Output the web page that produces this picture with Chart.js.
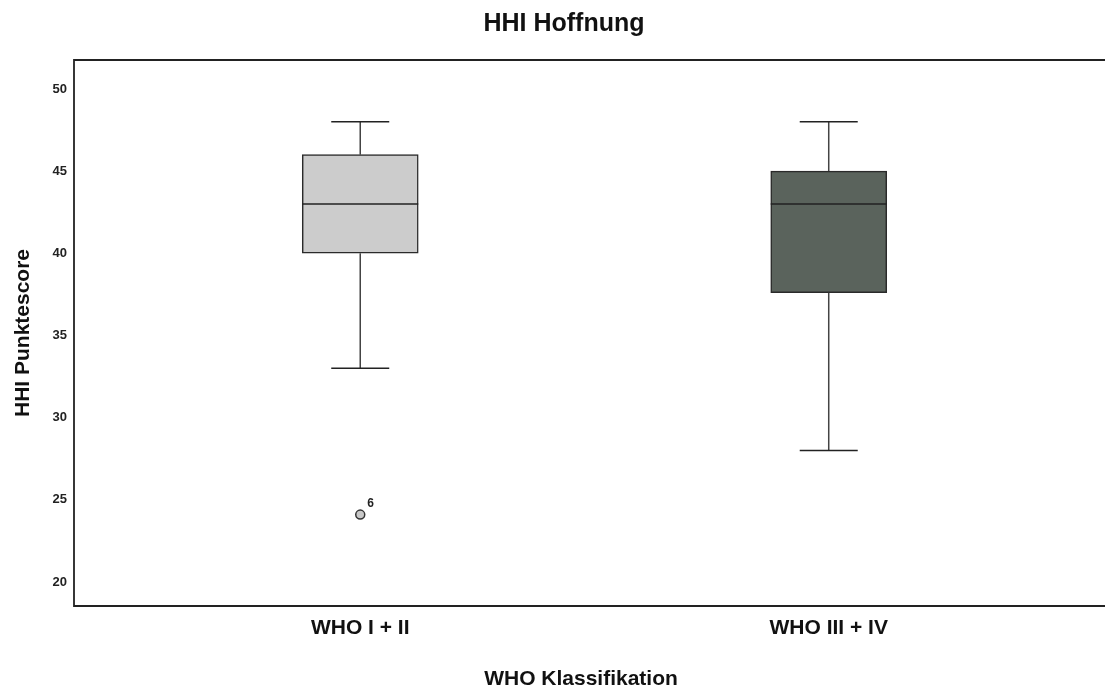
<!DOCTYPE html>
<html>
<head>
<meta charset="utf-8">
<script src="https://cdn.jsdelivr.net/npm/chart.js@4/dist/chart.umd.min.js"></script>
<style>
  html, body { margin: 0; padding: 0; overflow: hidden; background: #fff; }
  #wrap { width: 1128px; height: 689px; }
</style>
</head>
<body>
<div id="wrap"><canvas id="boxCanvas"></canvas></div>
<script>
const categories = ['WHO I + II', 'WHO III + IV'];
const whiskerLow = [33, 28];
const q1 = [40, 37.6];
const median = [43, 43];
const q3 = [46, 45];
const whiskerHigh = [48, 48];
const outliers = [{ x: 0, y: 24.1, label: '6' }];
const yTicks = [20, 25, 30, 35, 40, 45, 50];
const boxColors = ['#cccccc', '#5a635c'];

Chart.defaults.font.family = "'Liberation Sans', Arial, sans-serif";
Chart.defaults.color = '#222';

const boxExtras = {
  id: 'boxExtras',
  afterDatasetsDraw(chart) {
    const { ctx, chartArea } = chart;
    const xs = chart.scales.x, ys = chart.scales.y;
    const boxW = 116;
    ctx.save();
    ctx.lineWidth = 1.5;
    for (let i = 0; i < categories.length; i++) {
      const x = xs.getPixelForValue(i);
      // whisker stems
      ctx.strokeStyle = '#444';
      ctx.beginPath();
      ctx.moveTo(x, ys.getPixelForValue(whiskerHigh[i]));
      ctx.lineTo(x, ys.getPixelForValue(q3[i]));
      ctx.moveTo(x, ys.getPixelForValue(q1[i]));
      ctx.lineTo(x, ys.getPixelForValue(whiskerLow[i]));
      ctx.stroke();
      // caps and median
      ctx.strokeStyle = '#222';
      ctx.beginPath();
      [whiskerHigh[i], whiskerLow[i]].forEach(v => {
        const y = ys.getPixelForValue(v);
        ctx.moveTo(x - boxW / 4, y);
        ctx.lineTo(x + boxW / 4, y);
      });
      const my = ys.getPixelForValue(median[i]);
      ctx.moveTo(x - boxW / 2, my);
      ctx.lineTo(x + boxW / 2, my);
      ctx.stroke();
    }
    // outlier labels
    ctx.fillStyle = '#222';
    ctx.font = "bold 12px 'Liberation Sans', Arial, sans-serif";
    ctx.textAlign = 'left';
    ctx.textBaseline = 'middle';
    outliers.forEach(o => {
      ctx.fillText(o.label, xs.getPixelForValue(o.x) + 7, ys.getPixelForValue(o.y) - 11);
    });
    // frame
    ctx.strokeStyle = '#222';
    ctx.lineWidth = 1.8;
    ctx.beginPath();
    ctx.moveTo(chart.width, chartArea.top);
    ctx.lineTo(chartArea.left, chartArea.top);
    ctx.lineTo(chartArea.left, chartArea.bottom);
    ctx.lineTo(chart.width, chartArea.bottom);
    ctx.stroke();
    // x axis title
    ctx.fillStyle = '#111';
    ctx.font = "bold 21px 'Liberation Sans', Arial, sans-serif";
    ctx.textAlign = 'center';
    ctx.fillText('WHO Klassifikation', 581, 679);
    ctx.restore();
  }
};

new Chart(document.getElementById('boxCanvas'), {
  type: 'bar',
  data: {
    datasets: [
      {
        type: 'scatter',
        data: outliers.map(o => ({ x: o.x, y: o.y })),
        pointRadius: 4.5,
        pointBackgroundColor: '#c8c8c8',
        pointBorderColor: '#333',
        pointBorderWidth: 1.5
      },
      {
        data: categories.map((c, i) => ({ x: i, y: [q1[i], q3[i]] })),
        backgroundColor: boxColors,
        borderColor: '#2a2a2a',
        borderWidth: 1.5,
        borderSkipped: false,
        barThickness: 116
      }
    ]
  },
  options: {
    responsive: true,
    maintainAspectRatio: false,
    animation: false,
    layout: { padding: 0 },
    plugins: {
      legend: { display: false },
      tooltip: { enabled: false },
      title: {
        display: true,
        text: 'HHI Hoffnung',
        color: '#111',
        font: { size: 25, weight: 'bold' },
        padding: { top: 9, bottom: 21 }
      }
    },
    scales: {
      x: {
        type: 'linear',
        min: -0.611,
        max: 1.626,
        offset: false,
        grid: { display: false, drawTicks: false, offset: false },
        border: { display: false },
        afterBuildTicks: s => { s.ticks = categories.map((c, i) => ({ value: i })); },
        afterFit: s => { s.height = 83; },
        ticks: {
          padding: 10,
          color: '#111',
          font: { size: 21, weight: 'bold' },
          callback: v => categories[v]
        }
      },
      y: {
        min: 18.54,
        max: 51.76,
        grid: { display: false, drawTicks: false },
        border: { display: false },
        afterBuildTicks: s => { s.ticks = yTicks.map(v => ({ value: v })); },
        afterFit: s => { s.width = 74; },
        ticks: {
          padding: 7,
          color: '#222',
          font: { size: 13, weight: 'bold' }
        },
        title: {
          display: true,
          text: 'HHI Punktescore',
          color: '#111',
          font: { size: 21, weight: 'bold' },
          padding: { top: 11, bottom: 0 }
        }
      }
    }
  },
  plugins: [boxExtras]
});
</script>
</body>
</html>
